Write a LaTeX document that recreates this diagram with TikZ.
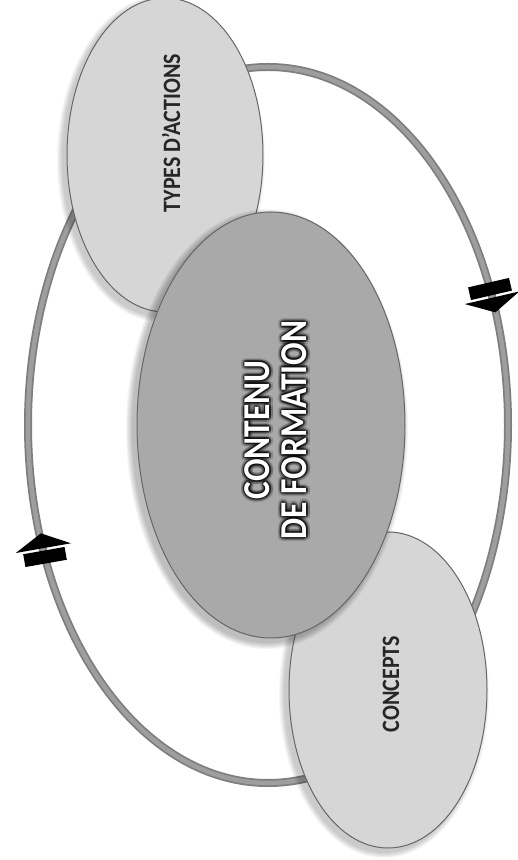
\documentclass[tikz,border=0pt]{standalone}
\usepackage{fontspec}
\setmainfont{Carlito}
\newfontfamily\condfont[FakeStretch=0.88]{Carlito}
\usetikzlibrary{shapes.geometric}
\definecolor{ringdark}{HTML}{7E7E7E}
\definecolor{ringlight}{HTML}{9E9E9E}
\definecolor{lightfill}{HTML}{D6D6D6}
\definecolor{midfill}{HTML}{A9A9A9}
\definecolor{edgecol}{HTML}{666666}
\tikzset{
  x=1pt, y=1pt,
  bubble/.style={ellipse, draw=edgecol, line width=1pt, inner sep=0pt},
  smalllabel/.style={rotate=90, text=black!85, font=\condfont\bfseries\fontsize{25}{28}\selectfont},
  biglabel/.style={rotate=90, align=center, font=\condfont\bfseries\fontsize{38}{37}\selectfont},
  cyclearrow/.pic={
    \fill[black] (-21,-6.5) rectangle (21,6.5);
    \fill[black] (-28,9) -- (28,9) -- (0,24) -- cycle;
  }
}
\begin{document}
\begin{tikzpicture}
\useasboundingbox (0,0) rectangle (518,860);
\fill[white] (0,0) rectangle (518,860);
% cycle ring
\draw[ringdark, line width=8pt] (268,435) ellipse [x radius=240pt, y radius=358pt];
\draw[ringlight, line width=4.5pt] (268,435) ellipse [x radius=240pt, y radius=358pt];
% arrows on the ring
\pic[rotate=193] at (490,571) {cyclearrow};
\pic[rotate=10] at (45,303) {cyclearrow};
% soft shadows
\foreach \r in {1,...,6} {
  \fill[black, opacity=0.035] (161,701) ellipse [x radius={98pt+\r pt}, y radius={157pt+\r pt}];
  \fill[black, opacity=0.035] (384,166) ellipse [x radius={99pt+\r pt}, y radius={158pt+\r pt}];
}
% TYPES D'ACTIONS
\node[bubble, fill=lightfill, minimum width=196pt, minimum height=314pt] (types) at (165,705) {};
\node[smalllabel] (typeslbl) at (171,727) {TYPES D’ACTIONS};
% CONCEPTS
\node[bubble, fill=lightfill, minimum width=198pt, minimum height=316pt] (concepts) at (388,170) {};
\node[smalllabel] (conceptslbl) at (391,176) {CONCEPTS};
% central shadow
\foreach \r in {1,...,7} {
  \fill[black, opacity=0.04] (267,431) ellipse [x radius={134pt+\r pt}, y radius={213pt+\r pt}];
}
\node[bubble, fill=midfill, minimum width=268pt, minimum height=426pt] (centre) at (271,435) {};
% glow behind central text
\foreach \a in {0,30,...,330} {
  \path (276,430) ++(\a:1.8) node[biglabel, text=black, opacity=0.24] (glowa\a) {CONTENU\\DE FORMATION};
  \path (276,430) ++(\a:3.8) node[biglabel, text=black, opacity=0.12] (glowb\a) {CONTENU\\DE FORMATION};
}
\node[biglabel, text=white] (centrelbl) at (276,430) {CONTENU\\DE FORMATION};
\end{tikzpicture}
\end{document}
